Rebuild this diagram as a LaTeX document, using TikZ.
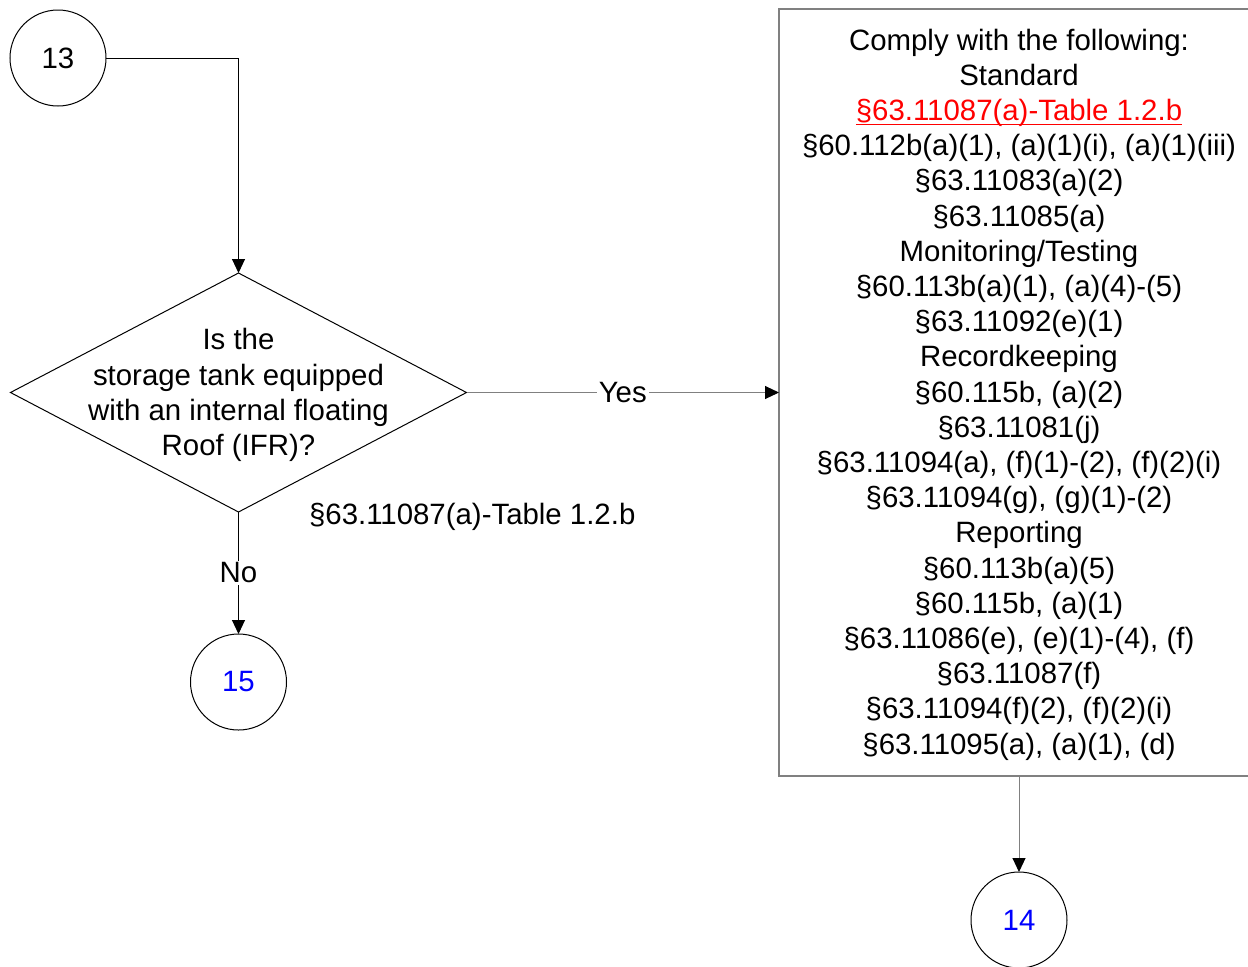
\documentclass[tikz,border=0pt]{standalone}
\usepackage{fontspec}
\setmainfont{Liberation Sans}
\usepackage{xcolor}
\usetikzlibrary{shapes.geometric,arrows.meta}

\definecolor{linegray}{RGB}{128,128,128}

\newcommand{\redlink}[1]{\textcolor{red}{\setbox0\hbox{#1}\rlap{\rule[-2.2pt]{\wd0}{0.6pt}}\box0}}

\tikzset{
  connector/.style={draw=black,circle,line width=0.5pt,minimum size=48pt,inner sep=0pt,outer sep=0pt},
  decision/.style={draw=black,diamond,line width=0.5pt,minimum width=228pt,minimum height=119.5pt,inner sep=0pt,outer sep=0pt},
  actionbox/.style={draw=linegray,rectangle,line width=0.6pt,minimum width=240pt,minimum height=383.5pt,inner sep=0pt,outer sep=0pt},
  flow/.style={line width=0.5pt,-{Triangle[length=7pt,width=6.5pt,color=black]}},
  grayflow/.style={flow,draw=linegray},
  lbl/.style={fill=white,inner sep=1pt}
}

\begin{document}
\begin{tikzpicture}[x=0.5pt,y=-0.5pt,font=\fontsize{14.7}{17.6}\selectfont]

\useasboundingbox (0,0) rectangle (1248,966) ;

\node [connector] (c13) at (58,58) {13} ;
\node [decision] (q) at (238.5,392.5) {} ;
\node [align=center] (qtext) at (238.5,395) {Is the\\storage tank equipped\\with an internal floating\\Roof (IFR)?} ;
\node [connector,text=blue] (c15) at (238.5,682) {15} ;
\node [anchor=west] (ref) at (302,517) {§63.11087(a)-Table 1.2.b} ;

\node [actionbox] (comply) at (1019,392.5) {} ;
\node [align=center] (complytext) at (1019,394.5) {Comply with the following:\\
Standard\\
\redlink{§63.11087(a)-Table 1.2.b}\\
§60.112b(a)(1), (a)(1)(i), (a)(1)(iii)\\
§63.11083(a)(2)\\
§63.11085(a)\\
Monitoring/Testing\\
§60.113b(a)(1), (a)(4)-(5)\\
§63.11092(e)(1)\\
Recordkeeping\\
§60.115b, (a)(2)\\
§63.11081(j)\\
§63.11094(a), (f)(1)-(2), (f)(2)(i)\\
§63.11094(g), (g)(1)-(2)\\
Reporting\\
§60.113b(a)(5)\\
§60.115b, (a)(1)\\
§63.11086(e), (e)(1)-(4), (f)\\
§63.11087(f)\\
§63.11094(f)(2), (f)(2)(i)\\
§63.11095(a), (a)(1), (d)} ;
\node [connector,text=blue] (c14) at (1019,920) {14} ;

% connectors
\draw [flow] (c13.east) -| (q.north) ;
\draw [grayflow] (q.east) -- node [lbl] {Yes} (comply.west) ;
\draw [flow] (q.south) -- node [lbl] {No} (c15.north) ;
\draw [grayflow] (comply.south) -- (c14.north) ;

\end{tikzpicture}
\end{document}
